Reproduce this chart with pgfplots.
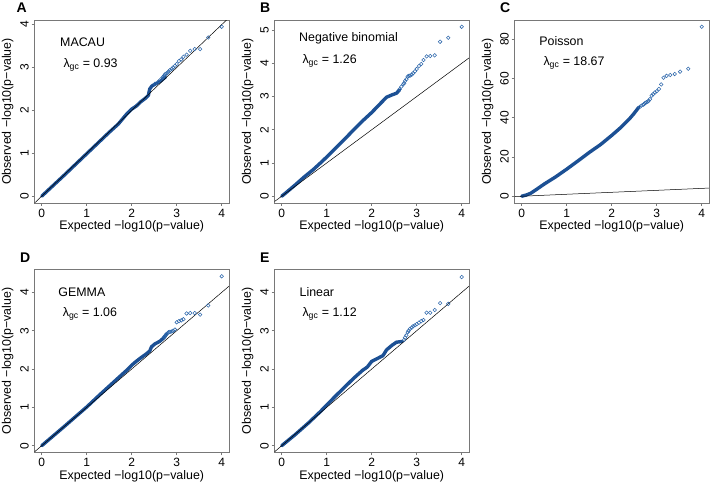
\documentclass[border=0pt]{standalone}
\usepackage{fontspec}
\setmainfont{Liberation Sans}
\usepackage{pgfplots}
\pgfplotsset{compat=1.18}

\definecolor{qqband}{RGB}{28,80,148}
\definecolor{qqpt}{RGB}{46,104,172}
\definecolor{frame}{RGB}{120,120,120}

\pgfplotsset{
  qq/.style={
    scale only axis, width=194.4pt, height=183pt, anchor=south west,
    xmin=-0.16, xmax=4.16, xtick={0,1,2,3,4},
    axis line style={frame, line width=0.7pt},
    every tick/.style={frame, line width=0.7pt},
    major tick length=2.8pt, tick align=outside,
    xtick pos=left, ytick pos=left,
    font=\fontsize{12.4}{14}\selectfont,
    tick label style={font=\fontsize{12}{14}\selectfont},
    /pgf/number format/assume math mode=true,
    xticklabel style={anchor=base, yshift=-11.5pt},
    yticklabel style={xshift=-3pt, rotate=90, anchor=base},
    xlabel={Expected −log10(p−value)},
    ylabel={Observed −log10(p−value)},
    xlabel style={at={(axis description cs:0.5,-0.147)}, anchor=base},
    ylabel style={at={(axis description cs:-0.122,0.5)}, anchor=base},
  },
  band/.style={no marks, qqband, line width=3.4pt, line cap=round, line join=round},
  tail/.style={only marks, mark=o, mark size=1.8pt, qqpt, mark options={line width=0.55pt}},
  diag/.style={no marks, black, line width=0.5pt},
}

\begin{document}
\begin{tikzpicture}[x=1pt,y=1pt]
\useasboundingbox (0pt,0pt) rectangle (710pt,-487pt);

% A: MACAU
\begin{axis}[qq, at={(34.5pt,-203pt)}, ymin=-0.158, ymax=4.108, ytick={0,1,2,3,4}]
\addplot[band] coordinates {(0,0) (0.5,0.49) (1.0,0.99) (1.5,1.49) (1.7,1.68) (1.9,1.93) (2.0,2.03) (2.1,2.1) (2.2,2.2) (2.3,2.28) (2.37,2.35) (2.4,2.5) (2.45,2.57) (2.55,2.63) (2.65,2.69) (2.75,2.78)};
\addplot[tail] coordinates {(4.0,3.95) (3.70,3.70) (3.52,3.43) (3.40,3.43) (3.30,3.39) (3.22,3.30) (3.15,3.25) (3.10,3.19) (3.05,3.15) (3.0,3.08) (2.96,3.04) (2.92,3.00) (2.89,2.97) (2.85,2.94) (2.82,2.91) (2.80,2.88) (2.77,2.86) (2.74,2.84) (2.72,2.81) (2.70,2.78) (2.66,2.74) (2.60,2.68) (2.52,2.62)};
\addplot[diag] coordinates {(-1,-1) (6,6)};
\node[anchor=base west] at (rel axis cs:0.114,0.854) {MACAU};
\node[anchor=base west] at (rel axis cs:0.131,0.739) {λ\textsubscript{gc} = 0.93};
\end{axis}

% B: Negative binomial
\begin{axis}[qq, at={(274.5pt,-203pt)}, ymin=-0.204, ymax=5.304, ytick={0,1,2,3,4,5}]
\addplot[band] coordinates {(0,0) (0.1,0.11) (0.3,0.34) (0.5,0.58) (0.7,0.8) (0.86,1.0) (1.0,1.18) (1.2,1.45) (1.4,1.72) (1.6,2.0) (1.8,2.27) (2.0,2.52) (2.2,2.8) (2.33,2.98) (2.45,3.05) (2.55,3.1) (2.62,3.2)};
\addplot[tail] coordinates {(4.0,5.10) (3.70,4.77) (3.52,4.65) (3.40,4.24) (3.30,4.22) (3.22,4.21) (3.15,4.10) (3.10,3.98) (3.05,3.92) (3.0,3.83) (2.96,3.76) (2.92,3.70) (2.89,3.66) (2.85,3.63) (2.82,3.62) (2.80,3.60) (2.77,3.52) (2.74,3.47) (2.72,3.40) (2.70,3.37) (2.66,3.30) (2.62,3.22)};
\addplot[diag] coordinates {(-1,-1) (6,6)};
\node[anchor=base west] at (rel axis cs:0.109,0.881) {Negative binomial};
\node[anchor=base west] at (rel axis cs:0.126,0.76) {λ\textsubscript{gc} = 1.26};
\end{axis}

% C: Poisson
\begin{axis}[qq, at={(514.5pt,-203pt)}, ymin=-3.456, ymax=89.856, ytick={0,20,40,60,80}]
\addplot[band] coordinates {(0,0) (0.1,0.6) (0.2,1.5) (0.33,3.5) (0.5,6.2) (0.75,9.8) (1.0,13.8) (1.25,18.0) (1.5,22.3) (1.75,26.3) (2.0,31.0) (2.2,35.0) (2.4,39.6) (2.5,42.3) (2.6,45.3)};
\addplot[tail] coordinates {(4.0,86.4) (3.70,65.0) (3.52,63.5) (3.40,62.3) (3.30,61.8) (3.22,61.4) (3.15,60.4) (3.10,57.0) (3.05,54.7) (3.0,53.5) (2.96,52.9) (2.92,52.0) (2.89,51.3) (2.85,49.5) (2.82,48.7) (2.80,48.2) (2.77,47.9) (2.74,47.5) (2.72,47.0) (2.70,46.6) (2.66,46.2) (2.62,45.5)};
\addplot[diag] coordinates {(-1,-1) (6,6)};
\node[anchor=base west] at (rel axis cs:0.11,0.86) {Poisson};
\node[anchor=base west] at (rel axis cs:0.131,0.749) {λ\textsubscript{gc} = 18.67};
\end{axis}

% D: GEMMA
\begin{axis}[qq, at={(34.5pt,-452.5pt)}, ymin=-0.177, ymax=4.597, ytick={0,1,2,3,4}]
\addplot[band] coordinates {(0,0) (0.5,0.5) (1.0,1.01) (1.3,1.34) (1.6,1.66) (1.9,1.98) (2.0,2.1) (2.1,2.2) (2.2,2.29) (2.33,2.4) (2.4,2.47) (2.44,2.58) (2.52,2.66) (2.62,2.72) (2.72,2.82) (2.78,2.92)};
\addplot[tail] coordinates {(4.0,4.42) (3.70,3.66) (3.52,3.42) (3.40,3.46) (3.30,3.46) (3.22,3.45) (3.15,3.30) (3.10,3.27) (3.05,3.25) (3.0,3.22) (2.96,3.03) (2.92,3.0) (2.89,2.98) (2.85,2.97) (2.82,2.96) (2.80,2.94) (2.77,2.91) (2.74,2.87) (2.72,2.84)};
\addplot[diag] coordinates {(-1,-1) (6,6)};
\node[anchor=base west] at (rel axis cs:0.105,0.853) {GEMMA};
\node[anchor=base west] at (rel axis cs:0.128,0.743) {λ\textsubscript{gc} = 1.06};
\end{axis}

% E: Linear
\begin{axis}[qq, at={(274.5pt,-452.5pt)}, ymin=-0.177, ymax=4.597, ytick={0,1,2,3,4}]
\addplot[band] coordinates {(0,0) (0.3,0.29) (0.6,0.6) (0.85,0.88) (1.0,1.06) (1.2,1.3) (1.4,1.53) (1.6,1.76) (1.8,1.97) (1.9,2.05) (2.0,2.2) (2.1,2.26) (2.25,2.35) (2.33,2.5) (2.45,2.62) (2.55,2.7) (2.68,2.72)};
\addplot[tail] coordinates {(4.0,4.40) (3.70,3.70) (3.52,3.72) (3.40,3.54) (3.30,3.47) (3.22,3.47) (3.15,3.28) (3.10,3.25) (3.05,3.21) (3.0,3.17) (2.96,3.14) (2.92,3.12) (2.89,3.08) (2.85,3.05) (2.82,3.0) (2.80,2.96) (2.77,2.88) (2.74,2.82) (2.72,2.76)};
\addplot[diag] coordinates {(-1,-1) (6,6)};
\node[anchor=base west] at (rel axis cs:0.111,0.853) {Linear};
\node[anchor=base west] at (rel axis cs:0.126,0.743) {λ\textsubscript{gc} = 1.12};
\end{axis}

\node[anchor=base west, font=\bfseries\fontsize{14}{16}\selectfont] at (13pt,-12.7pt) {A};
\node[anchor=base west, font=\bfseries\fontsize{14}{16}\selectfont] at (256.7pt,-12.7pt) {B};
\node[anchor=base west, font=\bfseries\fontsize{14}{16}\selectfont] at (496.7pt,-12.7pt) {C};
\node[anchor=base west, font=\bfseries\fontsize{14}{16}\selectfont] at (16.7pt,-262pt) {D};
\node[anchor=base west, font=\bfseries\fontsize{14}{16}\selectfont] at (256.7pt,-262pt) {E};
\end{tikzpicture}
\end{document}
